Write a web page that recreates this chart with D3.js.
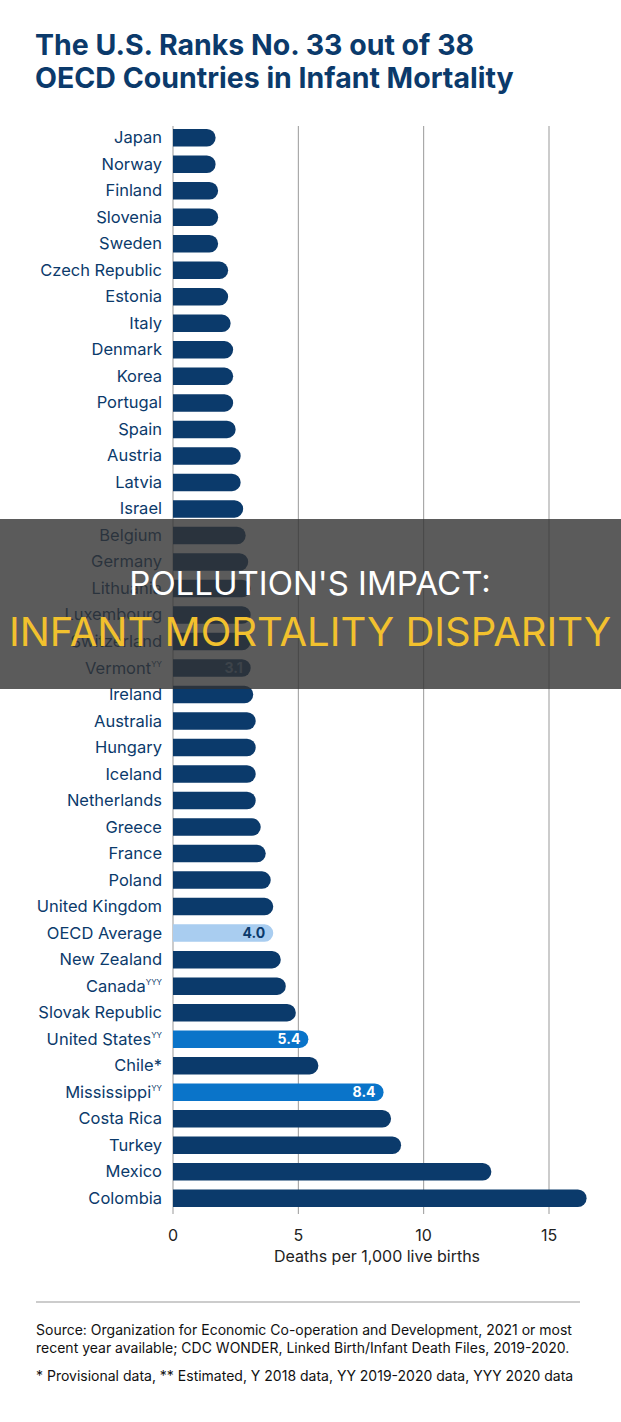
<!DOCTYPE html>
<html><head><meta charset="utf-8">
<script src="https://cdn.jsdelivr.net/npm/d3@7"></script>
<style>body{margin:0;background:#fff;font-family:Inter,"Noto Sans",sans-serif;}</style>
</head><body><svg id="c" width="621" height="1422"></svg>
<script>
const categories=["Japan","Norway","Finland","Slovenia","Sweden","Czech Republic","Estonia","Italy","Denmark","Korea","Portugal","Spain","Austria","Latvia","Israel","Belgium","Germany","Lithuania","Luxembourg","Switzerland","Vermont","Ireland","Australia","Hungary","Iceland","Netherlands","Greece","France","Poland","United Kingdom","OECD Average","New Zealand","Canada","Slovak Republic","United States","Chile*","Mississippi","Costa Rica","Turkey","Mexico","Colombia"];
const superscripts={"Vermont":"ΥΥ","Canada":"ΥΥΥ","United States":"ΥΥ","Mississippi":"ΥΥ"};
const values=[1.7,1.7,1.8,1.8,1.8,2.2,2.2,2.3,2.4,2.4,2.4,2.5,2.7,2.7,2.8,2.9,3.0,3.1,3.1,3.1,3.1,3.2,3.3,3.3,3.3,3.3,3.5,3.7,3.9,4.0,4.0,4.3,4.5,4.9,5.4,5.8,8.4,8.7,9.1,12.7,16.5];
const highlighted={"OECD Average":"oecd","United States":"us","Mississippi":"us","Vermont":"vt"};
const ticks=[0,5,10,15];

const svg=d3.select("#c");
const navy="#0b3a6b";
svg.append("text").attr("x",35).attr("y",55).attr("font-size",28.5).attr("font-weight",700).attr("fill",navy).text("The U.S. Ranks No. 33 out of 38");
svg.append("text").attr("x",35).attr("y",88).attr("font-size",28.5).attr("font-weight",700).attr("fill",navy).text("OECD Countries in Infant Mortality");

const x=d3.scaleLinear().domain([0,15]).range([173,549]);
const y=d3.scaleBand().domain(categories).range([124.5,1211.5]).paddingInner(0.34).paddingOuter(0.17);

svg.append("g").selectAll("line").data(ticks).join("line")
 .attr("x1",d=>x(d)).attr("x2",d=>x(d)).attr("y1",126).attr("y2",1214)
 .attr("stroke","#999").attr("stroke-width",1);

const g=svg.append("g");
categories.forEach((c,i)=>{
  const v=values[i], h=highlighted[c];
  const fill=h==="oecd"?"#a9cdf0":h==="us"?"#0a74c9":navy;
  const yy=y(c), bh=y.bandwidth();
  g.append("path").attr("fill",fill)
   .attr("d",`M${x(0)},${yy}H${x(v)-bh/2}A${bh/2},${bh/2} 0 0 1 ${x(v)-bh/2},${yy+bh}H${x(0)}Z`);
  const t=g.append("text").attr("x",162).attr("y",yy+bh/2+5.5).attr("text-anchor","end").attr("font-size",16.5).attr("fill",navy).text(c);
  if(superscripts[c]) t.append("tspan").attr("font-size",8).attr("dy",-7).text(superscripts[c]);
  if(h){
    g.append("text").attr("x",x(v)-8).attr("y",yy+bh/2+5).attr("text-anchor","end").attr("font-size",14).attr("font-weight",700)
     .attr("fill",h==="oecd"?navy:h==="vt"?"#6a89a8":"#fff").text(v.toFixed(1));
  }
});

svg.append("g").selectAll("text").data(ticks).join("text")
 .attr("x",d=>x(d)).attr("y",1241).attr("text-anchor","middle").attr("font-size",16).attr("fill","#222").text(d=>d);
svg.append("text").attr("x",377).attr("y",1262).attr("text-anchor","middle").attr("font-size",16).attr("fill","#222").text("Deaths per 1,000 live births");

svg.append("line").attr("x1",36).attr("x2",580).attr("y1",1302).attr("y2",1302).attr("stroke","#999");
const foot=[["Source: Organization for Economic Co-operation and Development, 2021 or most",1335],["recent year available; CDC WONDER, Linked Birth/Infant Death Files, 2019-2020.",1353],["* Provisional data, ** Estimated, Υ 2018 data, ΥΥ 2019-2020 data, ΥΥΥ 2020 data",1381]];
foot.forEach(([t,yy])=>svg.append("text").attr("x",36).attr("y",yy).attr("font-size",14).attr("fill","#111").text(t));

svg.append("rect").attr("x",0).attr("y",519).attr("width",621).attr("height",170).attr("fill","rgba(50,50,50,0.8)");
svg.append("text").attr("x",310).attr("y",595).attr("text-anchor","middle").attr("font-size",33).attr("fill","#fff").text("POLLUTION'S IMPACT:");
svg.append("text").attr("x",310).attr("y",646).attr("text-anchor","middle").attr("font-size",40).attr("fill","#f2c12e").text("INFANT MORTALITY DISPARITY");
</script></body></html>
